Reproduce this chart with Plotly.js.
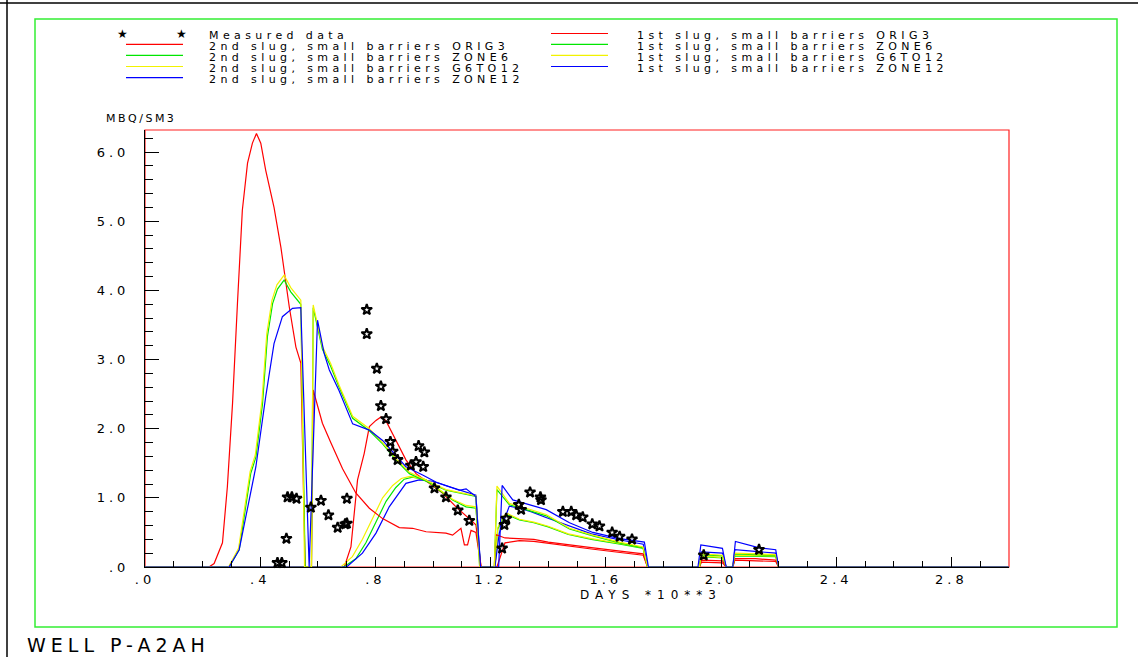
<!DOCTYPE html>
<html><head><meta charset="utf-8">
<script src="https://cdn.plot.ly/plotly-3.0.1.min.js"></script>
<style>
html,body{margin:0;padding:0;background:#fff;}
#chart{width:1138px;height:657px;}
text{letter-spacing:4px;}
</style></head><body><div id="chart"></div><script>
// ---------- data ----------
const xTickVals = [0, 0.4, 0.8, 1.2, 1.6, 2.0, 2.4, 2.8];
const xTickText = ['.0', '.4', '.8', '1.2', '1.6', '2.0', '2.4', '2.8'];
const yTickVals = [0, 1, 2, 3, 4, 5, 6];
const yTickText = ['.0', '1.0', '2.0', '3.0', '4.0', '5.0', '6.0'];

const measuredX = [0.46, 0.475, 0.491, 0.495, 0.51, 0.526, 0.576, 0.611, 0.637, 0.669, 0.695, 0.701, 0.701,
  0.77, 0.77, 0.805, 0.819, 0.819, 0.837, 0.852, 0.86, 0.877, 0.923, 0.941, 0.95, 0.966, 0.97, 1.005, 1.045,
  1.086, 1.126, 1.24, 1.248, 1.254, 1.298, 1.306, 1.337, 1.373, 1.375, 1.451, 1.48, 1.497, 1.52, 1.553, 1.578,
  1.622, 1.648, 1.691, 1.94, 2.132];
const measuredY = [0.06, 0.06, 0.41, 1.01, 1.01, 0.99, 0.86, 0.96, 0.75, 0.57, 0.62, 0.63, 0.99,
  3.72, 3.37, 2.87, 2.61, 2.33, 2.14, 1.81, 1.67, 1.55, 1.47, 1.52, 1.75, 1.45, 1.66, 1.14, 1.01,
  0.82, 0.67, 0.27, 0.61, 0.70, 0.90, 0.83, 1.08, 1.01, 0.97, 0.80, 0.80, 0.75, 0.72, 0.62, 0.59,
  0.50, 0.44, 0.40, 0.17, 0.25];

// 2nd slug (later arrival)
const slug2OrigX = [0, 0.692, 0.715, 0.738, 0.761, 0.779, 0.802, 0.819, 0.836, 0.865, 0.906, 0.941, 0.987, 1.033, 1.08, 1.126, 1.149, 1.167,
  1.222, 1.25, 1.30, 1.35, 1.40, 1.45, 1.55, 1.65, 1.73, 1.745, 1.925, 1.932, 2.005, 2.018, 2.041, 2.048, 2.12, 2.19, 2.20, 3.0];
const slug2OrigY = [0, 0, 0.29, 1.26, 1.64, 2.03, 2.12, 2.17, 2.12, 1.88, 1.55, 1.35, 1.21, 1.07, 0.87, 0.70, 0.61, 0,
  0, 0.35, 0.38, 0.37, 0.34, 0.31, 0.26, 0.21, 0.17, 0, 0, 0.07, 0.06, 0, 0, 0.10, 0.09, 0.08, 0, 0];

const slug2Zone6X = [0, 0.69, 0.732, 0.767, 0.802, 0.837, 0.871, 0.90, 0.929, 0.976, 1.022, 1.068, 1.115, 1.149, 1.165,
  1.215, 1.225, 1.245, 1.26, 1.30, 1.35, 1.40, 1.47, 1.55, 1.65, 1.73, 1.745, 1.925, 1.932, 2.005, 2.018, 2.041, 2.048, 2.12, 2.19, 2.20, 3.0];
const slug2Zone6Y = [0, 0, 0.12, 0.35, 0.65, 0.95, 1.15, 1.27, 1.30, 1.26, 1.11, 0.97, 0.87, 0.85, 0,
  0, 0.55, 0.72, 0.75, 0.68, 0.64, 0.58, 0.47, 0.40, 0.33, 0.27, 0, 0, 0.15, 0.13, 0, 0, 0.16, 0.15, 0.15, 0, 0];

const slug2G6to12X = [0, 0.68, 0.72, 0.755, 0.79, 0.825, 0.86, 0.89, 0.92, 0.97, 1.022, 1.068, 1.115, 1.149, 1.165,
  1.215, 1.225, 1.245, 1.26, 1.30, 1.35, 1.40, 1.47, 1.55, 1.65, 1.73, 1.745, 1.925, 1.932, 2.005, 2.018, 2.041, 2.048, 2.12, 2.19, 2.20, 3.0];
const slug2G6to12Y = [0, 0, 0.15, 0.40, 0.70, 1.00, 1.18, 1.28, 1.31, 1.27, 1.12, 0.98, 0.89, 0.87, 0,
  0, 0.57, 0.74, 0.77, 0.69, 0.65, 0.59, 0.48, 0.41, 0.34, 0.28, 0, 0, 0.16, 0.14, 0, 0, 0.17, 0.16, 0.16, 0, 0];

const slug2Zone12X = [0, 0.70, 0.755, 0.802, 0.848, 0.906, 0.952, 0.999, 1.05, 1.10, 1.149, 1.165,
  1.215, 1.23, 1.265, 1.30, 1.34, 1.39, 1.47, 1.55, 1.65, 1.73, 1.746, 1.925, 1.932, 2.005, 2.018, 2.041, 2.048, 2.12, 2.19, 2.20, 3.0];
const slug2Zone12Y = [0, 0, 0.20, 0.49, 0.87, 1.21, 1.26, 1.24, 1.17, 1.10, 1.04, 0,
  0, 0.49, 0.88, 0.85, 0.80, 0.72, 0.60, 0.48, 0.39, 0.33, 0, 0, 0.22, 0.20, 0, 0, 0.25, 0.22, 0.20, 0, 0];

// 1st slug (early arrival)
const slug1OrigX = [0, 0.222, 0.240, 0.269, 0.286, 0.304, 0.321, 0.338, 0.356, 0.373, 0.387, 0.402, 0.419, 0.448, 0.472, 0.501, 0.524, 0.541, 0.556,
  0.578, 0.584, 0.600, 0.616, 0.645, 0.686, 0.732, 0.779, 0.825, 0.883, 0.929, 0.976, 1.045, 1.068, 1.097, 1.109, 1.120, 1.132, 1.149, 1.167,
  1.213, 1.218, 1.25, 1.30, 1.35, 1.40, 1.45, 1.55, 1.65, 1.73, 1.745, 1.925, 1.932, 2.005, 2.018, 2.041, 2.048, 2.12, 2.19, 2.20, 3.0];
const slug1OrigY = [0, 0, 0.05, 0.35, 1.16, 2.37, 3.81, 5.16, 5.84, 6.13, 6.27, 6.13, 5.74, 5.20, 4.62, 3.76, 3.18, 2.95, 0,
  0, 2.56, 2.33, 2.08, 1.80, 1.42, 1.07, 0.85, 0.70, 0.57, 0.56, 0.51, 0.49, 0.46, 0.56, 0.32, 0.32, 0.53, 0.50, 0,
  0, 0.47, 0.42, 0.41, 0.40, 0.36, 0.33, 0.28, 0.23, 0.19, 0, 0, 0.10, 0.09, 0, 0, 0.12, 0.12, 0.10, 0, 0];

const slug1Zone6X = [0, 0.292, 0.327, 0.35, 0.367, 0.385, 0.408, 0.425, 0.443, 0.46, 0.483, 0.506, 0.541, 0.556,
  0.578, 0.584, 0.616, 0.645, 0.674, 0.721, 0.779, 0.825, 0.871, 0.918, 0.964, 1.01, 1.045, 1.091, 1.149, 1.162,
  1.213, 1.222, 1.245, 1.265, 1.323, 1.393, 1.474, 1.555, 1.648, 1.729, 1.745, 1.925, 1.932, 2.005, 2.018, 2.041, 2.048, 2.12, 2.19, 2.20, 3.0];
const slug1Zone6Y = [0, 0, 0.25, 0.92, 1.35, 1.59, 2.36, 3.33, 3.81, 4.02, 4.15, 3.98, 3.80, 0,
  0, 3.75, 3.15, 2.90, 2.60, 2.15, 1.97, 1.78, 1.55, 1.35, 1.26, 1.18, 1.11, 1.07, 1.02, 0,
  0, 1.12, 1.00, 0.90, 0.83, 0.74, 0.55, 0.45, 0.35, 0.28, 0, 0, 0.18, 0.16, 0, 0, 0.19, 0.18, 0.17, 0, 0];

const slug1G6to12X = [0, 0.29, 0.325, 0.348, 0.365, 0.383, 0.406, 0.423, 0.441, 0.458, 0.483, 0.506, 0.541, 0.554,
  0.578, 0.584, 0.616, 0.645, 0.674, 0.721, 0.779, 0.825, 0.871, 0.918, 0.964, 1.01, 1.045, 1.091, 1.149, 1.162,
  1.213, 1.222, 1.245, 1.265, 1.323, 1.393, 1.474, 1.555, 1.648, 1.729, 1.745, 1.925, 1.932, 2.005, 2.018, 2.041, 2.048, 2.12, 2.19, 2.20, 3.0];
const slug1G6to12Y = [0, 0, 0.27, 0.95, 1.38, 1.62, 2.40, 3.38, 3.86, 4.08, 4.22, 4.04, 3.86, 0,
  0, 3.79, 3.19, 2.94, 2.63, 2.18, 2.00, 1.80, 1.57, 1.37, 1.28, 1.20, 1.12, 1.08, 1.03, 0,
  0, 1.17, 1.03, 0.92, 0.85, 0.76, 0.56, 0.46, 0.36, 0.29, 0, 0, 0.19, 0.17, 0, 0, 0.20, 0.19, 0.18, 0, 0];

const slug1Zone12X = [0, 0.292, 0.327, 0.385, 0.419, 0.448, 0.477, 0.512, 0.541, 0.570,
  0.599, 0.622, 0.640, 0.674, 0.721, 0.779, 0.825, 0.906, 0.964, 1.01, 1.091, 1.115, 1.149, 1.165,
  1.228, 1.24, 1.277, 1.335, 1.393, 1.474, 1.555, 1.648, 1.734, 1.748, 1.92, 1.93, 2.005, 2.018, 2.041, 2.05, 2.09, 2.13, 2.19, 2.20, 3.0];
const slug1Zone12Y = [0, 0, 0.25, 1.45, 2.46, 3.23, 3.62, 3.74, 3.75, 0,
  3.57, 3.09, 2.85, 2.55, 2.07, 1.98, 1.83, 1.45, 1.33, 1.23, 1.11, 1.13, 1.02, 0,
  0, 1.18, 0.97, 0.90, 0.83, 0.64, 0.50, 0.41, 0.36, 0, 0, 0.32, 0.27, 0, 0, 0.37, 0.33, 0.28, 0.25, 0, 0];

const seriesNames = ['Measured data',
  '2nd slug, small barriers ORIG3', '2nd slug, small barriers ZONE6', '2nd slug, small barriers G6TO12', '2nd slug, small barriers ZONE12',
  '1st slug, small barriers ORIG3', '1st slug, small barriers ZONE6', '1st slug, small barriers G6TO12', '1st slug, small barriers ZONE12'];
const colors = ['#ff0000', '#00e600', '#f2f200', '#0000ff'];

// ---------- plot ----------
const FONT = 'DejaVu Sans';
const L = 145, R = 1009, T = 130, B = 567;
const px = x => (x - L) / (R - L);
const py = y => (B - y) / (B - T);

const lineSeries = [
  [slug2OrigX, slug2OrigY], [slug2Zone6X, slug2Zone6Y], [slug2G6to12X, slug2G6to12Y], [slug2Zone12X, slug2Zone12Y],
  [slug1OrigX, slug1OrigY], [slug1Zone6X, slug1Zone6Y], [slug1G6to12X, slug1G6to12Y], [slug1Zone12X, slug1Zone12Y]
];
const traces = lineSeries.map((s, i) => ({
  x: s[0], y: s[1], mode: 'lines', name: seriesNames[i + 1],
  line: {color: colors[i % 4], width: 1.2}, cliponaxis: true
}));
traces.push({
  x: measuredX, y: measuredY, mode: 'markers', name: seriesNames[0], cliponaxis: false,
  marker: {symbol: 'star-open', size: 8, color: '#000', line: {width: 2, color: '#000'}}
});

const annotations = [];
const shapes = [];
function leftText(x, y, text, size, extra) {
  annotations.push(Object.assign({xref: 'paper', yref: 'paper', x: px(x), y: py(y), xanchor: 'left', yanchor: 'middle', align: 'left',
    text: text, showarrow: false, font: {family: FONT, size: size, color: '#000'}}, extra || {}));
}
const spaced = (t, s) => '<span style="letter-spacing:' + s + 'px">' + t + '</span>';
// legend
const leftRows = [33.5, 44.3, 55.3, 66.5, 77.7];
const rightRows = [33.5, 44.3, 55.3, 66.5];
leftText(207, leftRows[0] + 2, spaced(seriesNames[0], 4.4), 11);
[124, 183].forEach(sx => annotations.push({xref: 'paper', yref: 'paper', x: px(sx), y: py(leftRows[0]), xanchor: 'center', yanchor: 'middle',
  text: '★', showarrow: false, font: {family: FONT, size: 12, color: '#000'}}));
for (let i = 0; i < 4; i++) {
  const yL = leftRows[i + 1];
  shapes.push({type: 'line', xref: 'paper', yref: 'paper', x0: px(126), x1: px(183), y0: py(yL), y1: py(yL), line: {color: colors[i], width: 1.2}});
  leftText(207, yL + 2.2, spaced(seriesNames[i + 1], 4.4), 11);
  const yR = rightRows[i];
  shapes.push({type: 'line', xref: 'paper', yref: 'paper', x0: px(551), x1: px(608), y0: py(yR), y1: py(yR), line: {color: colors[i], width: 1.2}});
  leftText(635, yR + 2.2, spaced(seriesNames[i + 5], 4.4), 11);
}
// axis titles & well label
leftText(104, 118, spaced('MBQ/SM3', 2.5), 11);
leftText(578, 595, spaced('DAYS *10**3', 6), 12);
leftText(25, 645, spaced('WELL P-A2AH', 5), 19);

// frames
shapes.push({type: 'rect', xref: 'paper', yref: 'paper', x0: px(35), x1: px(1117), y0: py(19), y1: py(627),
  line: {color: '#33ee33', width: 1.5}, layer: 'below'});
shapes.push({type: 'line', xref: 'paper', yref: 'paper', x0: px(0), x1: px(1138), y0: py(3), y1: py(3),
  line: {color: '#000', width: 1.5}});
shapes.push({type: 'line', xref: 'paper', yref: 'paper', x0: px(7), x1: px(7), y0: py(0), y1: py(657),
  line: {color: '#000', width: 1.5}});
shapes.push({type: 'rect', xref: 'paper', yref: 'paper', x0: 0, x1: 1, y0: 0, y1: 1,
  line: {color: '#ff2020', width: 1.2}, layer: 'below'});

const layout = {
  width: 1138, height: 657,
  margin: {l: L, r: 1138 - R, t: T, b: 657 - B, pad: 0},
  paper_bgcolor: '#fff', plot_bgcolor: '#fff',
  showlegend: false,
  font: {family: FONT, size: 12, color: '#000'},
  xaxis: {
    range: [0, 3], showgrid: false, zeroline: false, showline: true, linecolor: '#000', linewidth: 1,
    tickmode: 'array', tickvals: xTickVals, ticktext: xTickText,
    ticks: 'inside', ticklen: 10, tickwidth: 1, tickcolor: '#000',
    tickfont: {family: FONT, size: 13, color: '#000'},
    minor: {tickmode: 'linear', tick0: 0, dtick: 0.1, ticks: 'inside', ticklen: 6, tickwidth: 1, tickcolor: '#000', showgrid: false}
  },
  yaxis: {
    range: [0, 6.32], showgrid: false, zeroline: false, showline: true, linecolor: '#000', linewidth: 1,
    tickmode: 'array', tickvals: yTickVals, ticktext: yTickText,
    ticks: 'inside', ticklen: 14, tickwidth: 1, tickcolor: '#000', ticklabelstandoff: 12,
    tickfont: {family: FONT, size: 13, color: '#000'},
    minor: {tickmode: 'linear', tick0: 0, dtick: 0.2, ticks: 'inside', ticklen: 8, tickwidth: 1, tickcolor: '#000', showgrid: false}
  },
  shapes: shapes,
  annotations: annotations
};

Plotly.newPlot('chart', traces, layout, {staticPlot: true, displayModeBar: false});
</script></body></html>
